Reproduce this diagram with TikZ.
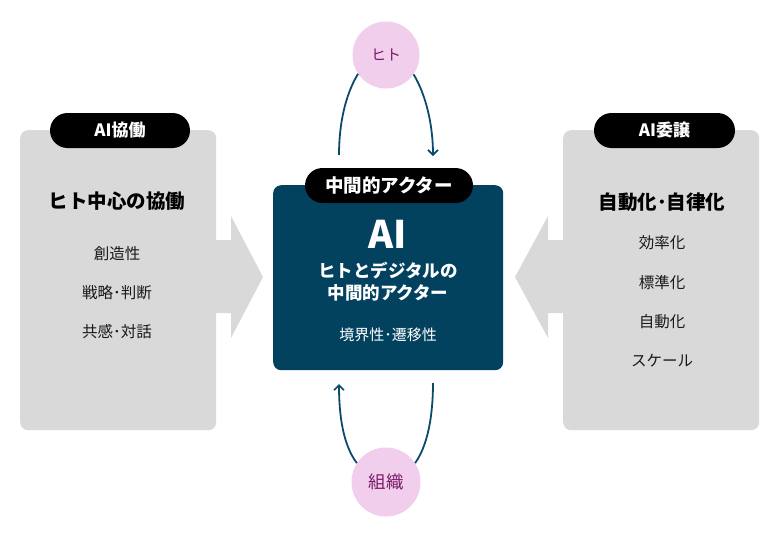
\documentclass[tikz,border=0pt]{standalone}
\usepackage{fontspec}
\setmainfont{Noto Sans CJK JP}
\usetikzlibrary{shapes.misc,arrows.meta}
\definecolor{panelgray}{HTML}{D9D9D9}
\definecolor{boxteal}{HTML}{03425F}
\definecolor{curveteal}{HTML}{0B4A6B}
\definecolor{pinkfill}{HTML}{F0CEEC}
\definecolor{purpletext}{HTML}{7A1A6A}
\tikzset{
  panel/.style={fill=panelgray, rounded corners=8pt, draw=none},
  pill/.style={rounded rectangle, fill=black, text=white, font=\bfseries\fontsize{17}{19}\selectfont, minimum height=35pt, inner sep=0pt},
  title/.style={font=\bfseries\fontsize{19.5}{22}\selectfont, text=black},
  item/.style={font=\fontsize{15.5}{18}\selectfont, text=black!90},
  bubble/.style={circle, fill=pinkfill, text=purpletext, minimum size=67pt, inner sep=0pt},
  loopline/.style={draw=curveteal, line width=1.8pt},
  looparrow/.style={loopline, -{Straight Barb[length=5pt,width=10pt,line width=1.6pt]}},
}
\begin{document}
\begin{tikzpicture}[x=1pt,y=-1pt]
\useasboundingbox (0,0) rectangle (780,539);
% big grey arrows
\fill[panelgray] (210,240) -- (231,240) -- (231,216) -- (263,277) -- (231,338) -- (231,313) -- (210,313) -- cycle;
\fill[panelgray] (570,240) -- (548,240) -- (548,216) -- (515,277) -- (548,338) -- (548,313) -- (570,313) -- cycle;
% side panels
\node[panel, minimum width=196pt, minimum height=300pt, anchor=north west] (lpanel) at (20,130) {};
\node[panel, minimum width=196pt, minimum height=300pt, anchor=north west] (rpanel) at (563,130) {};
\node[pill, minimum width=140pt] (lpill) at (120,130.5) {AI協働};
\node[pill, minimum width=141pt] (rpill) at (664.5,130.5) {AI委譲};
\node[title] (ltitle) at (117,201) {ヒト中心の協働};
\node[item] (l1) at (117,254) {創造性};
\node[item] (l2) at (117,293) {戦略･判断};
\node[item] (l3) at (117,332) {共感･対話};
\node[title] (rtitle) at (662,202) {自動化･自律化};
\node[item] (r1) at (662,243) {効率化};
\node[item] (r2) at (662,283) {標準化};
\node[item] (r3) at (662,322) {自動化};
\node[item] (r4) at (662,361) {スケール};
% center box
\node[fill=boxteal, rounded corners=8pt, minimum width=230pt, minimum height=185pt, anchor=north west] (center) at (273,185) {};
\node[pill, font=\bfseries\fontsize{18.5}{20}\selectfont, minimum width=168pt] (cpill) at (389,185.5) {中間的アクター};
\node[text=white, font=\bfseries\fontsize{38}{40}\selectfont] (ai) at (388,234) {AI};
\node[text=white, font=\bfseries\fontsize{17.5}{21}\selectfont, align=center] (ctitle) at (388,282) {ヒトとデジタルの\\[1pt]中間的アクター};
\node[text=white, font=\fontsize{15}{18}\selectfont] (csub) at (388,335) {境界性･遷移性};
% bubbles
\node[bubble, font=\fontsize{15}{17}\selectfont] (hito) at (386,55) {ヒト};
\node[bubble, minimum size=69pt, font=\fontsize{17.5}{20}\selectfont] (soshiki) at (386,482) {組織};
\coordinate (tl) at (339,155);
\coordinate (tr) at (433,156);
\coordinate (bl) at (339,384);
\coordinate (br) at (433,383);
\draw[loopline] (hito.214) .. controls (345,95) and (339,125) .. (tl);
\draw[looparrow] (hito.325) .. controls (426,95) and (433,125) .. (tr);
\draw[looparrow] (soshiki.147) .. controls (343,445) and (339,415) .. (bl);
\draw[loopline] (br) .. controls (433,415) and (428,445) .. (soshiki.33);
\end{tikzpicture}
\end{document}
